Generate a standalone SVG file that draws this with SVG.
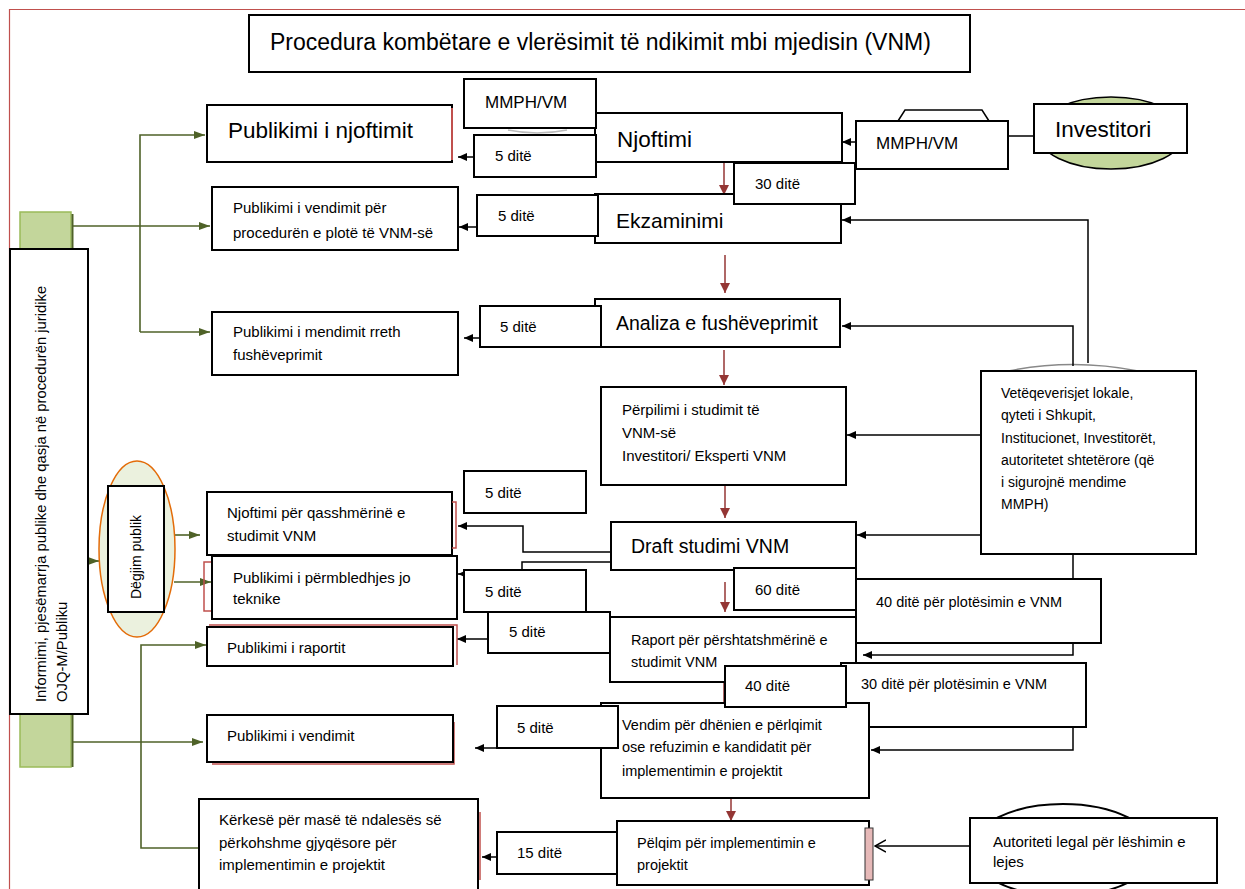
<svg xmlns="http://www.w3.org/2000/svg" width="1245" height="889" viewBox="0 0 1245 889">
<style>
.box{fill:#fff;stroke:#000;stroke-width:2}
.t{font-family:"Liberation Sans",Arial,sans-serif;fill:#000}
.s15{font-size:15px}
.s14{font-size:14.5px}
.blk{stroke:#000;stroke-width:1.5;fill:none}
.red{stroke:#943634;stroke-width:1.5;fill:none}
.grn{stroke:#4f6228;stroke-width:1.6;fill:none}
</style>
<defs>
<marker id="ab" markerWidth="10" markerHeight="10" refX="9" refY="5" orient="auto" markerUnits="userSpaceOnUse"><path d="M0,1 L9,5 L0,9 z" fill="#000"/></marker>
<marker id="ar" markerWidth="12" markerHeight="12" refX="10" refY="6" orient="auto" markerUnits="userSpaceOnUse"><path d="M0,1 L10,6 L0,11 z" fill="#943634"/></marker>
<marker id="ag" markerWidth="12" markerHeight="10" refX="11" refY="5" orient="auto" markerUnits="userSpaceOnUse"><path d="M0,1 L11,5 L0,9 z" fill="#4f6228"/></marker>
<marker id="ao" markerWidth="12" markerHeight="14" refX="11" refY="7" orient="auto" markerUnits="userSpaceOnUse"><path d="M0,1 L11,7 L0,13" fill="none" stroke="#000" stroke-width="1.5"/></marker>
</defs>
<rect width="1245" height="889" fill="#fff"/>
<path d="M9.5,889 V9.5 H1245" fill="none" stroke="#c0504d" stroke-width="1.2"/>

<!-- background shapes -->
<g id="bg-shapes">
<rect x="20" y="212" width="51" height="40" fill="#c3d69b" stroke="#9bbb59" stroke-width="1.5"/>
<line x1="72.5" y1="214" x2="72.5" y2="252" stroke="#4f6228" stroke-width="2"/>
<rect x="20" y="712" width="51" height="55" fill="#c3d69b" stroke="#9bbb59" stroke-width="1.5"/>
<line x1="72.5" y1="714" x2="72.5" y2="767" stroke="#4f6228" stroke-width="2"/>
<ellipse cx="1111" cy="133" rx="74" ry="36" fill="#c3d69b" stroke="#000" stroke-width="1.5"/>
<path d="M898,121 L905,110 L982,110 L989,121" fill="none" stroke="#000" stroke-width="1.5"/>
<path d="M508,130 Q537,136 567,130" fill="none" stroke="#bbb" stroke-width="1.5"/>
<path d="M1008,371 Q1073,358 1138,371" fill="none" stroke="#888" stroke-width="1.5"/>
<ellipse cx="1063" cy="850" rx="92" ry="46" fill="#fff" stroke="#000" stroke-width="2"/>
</g>

<!-- connectors -->
<g id="connectors">
<g class="grn">
<path d="M140,332 V135 H205" marker-end="url(#ag)"/>
<path d="M140,332 H210" marker-end="url(#ag)"/>
<path d="M73,226 H210" marker-end="url(#ag)"/>
<path d="M88,561 H99" marker-end="url(#ag)"/>
<path d="M174,535 H200" marker-end="url(#ag)"/>
<path d="M174,582 H211" marker-end="url(#ag)"/>
<path d="M73,742 H203" marker-end="url(#ag)"/>
<path d="M199,848 H141 V645 H206" marker-end="url(#ag)"/>
</g>
<g class="red">
<path d="M724,162 V195" marker-end="url(#ar)"/>
<path d="M725,255 V293" marker-end="url(#ar)"/>
<path d="M724,350 V385" marker-end="url(#ar)"/>
<path d="M725,485 V518" marker-end="url(#ar)"/>
<path d="M725,582 V612" marker-end="url(#ar)"/>
<path d="M724,682 V704"/>
<path d="M731,798 V821" marker-end="url(#ar)"/>
</g>
<g class="blk">
<path d="M474,157 H458" marker-end="url(#ab)"/>
<path d="M477,227 H459" marker-end="url(#ab)"/>
<path d="M480,338 H464" marker-end="url(#ab)"/>
<path d="M856,142 H842" marker-end="url(#ab)"/>
<path d="M1008,136 H1034"/>
<path d="M1088,363 V220 H842" marker-end="url(#ab)"/>
<path d="M1073,366 V326 H842" marker-end="url(#ab)"/>
<path d="M981,435 H847" marker-end="url(#ab)"/>
<path d="M981,535 H857" marker-end="url(#ab)"/>
<path d="M611,552 H523 V526 H458" marker-end="url(#ab)"/>
<path d="M611,562 H522 V571"/>
<path d="M466,574 H458" marker-end="url(#ab)"/>
<path d="M488,639 H457" marker-end="url(#ab)"/>
<path d="M1073,554 V655 H863" marker-end="url(#ab)"/>
<path d="M1073,727 V750 H871" marker-end="url(#ab)"/>
<path d="M497,748 H475" marker-end="url(#ab)"/>
<path d="M497,857 H482" marker-end="url(#ab)"/>
<path d="M970,846 H875" marker-end="url(#ao)"/>
</g>
</g>

<g id="title">
<rect class="box" x="249" y="15" width="721" height="57"/>
<text class="t" x="270" y="50" font-size="23">Procedura kombëtare e vlerësimit të ndikimit mbi mjedisin (VNM)</text>
</g>

<g id="informimi">
<rect class="box" x="10" y="249" width="78" height="465"/>
<text class="t" font-size="14.8" transform="translate(46,702) rotate(-90)">Informimi, pjesëmarrja publike dhe qasja në procedurën juridike</text>
<text class="t" font-size="14.8" transform="translate(67,702) rotate(-90)">OJQ-M/Publiku</text>
</g>

<g id="degjim">
<ellipse cx="137" cy="549" rx="38" ry="88" fill="#ebf1de" stroke="#e36c09" stroke-width="1.5"/>
<rect class="box" x="108" y="486" width="56" height="126"/>
<text class="t" font-size="14" text-anchor="middle" transform="translate(141,557) rotate(-90)">Dëgjim publik</text>
</g>

<g id="pub-njoftimit">
<rect class="box" x="207" y="105" width="245" height="57"/>
<line x1="452" y1="108" x2="452" y2="160" stroke="#c0504d" stroke-width="2"/>
<text class="t" x="228" y="138" font-size="22.5">Publikimi i njoftimit</text>
</g>

<g id="pub-vendimit-proc">
<rect class="box" x="212" y="187" width="246" height="63"/>
<text class="t s15" x="233" y="213">Publikimi i vendimit për</text>
<text class="t s15" x="233" y="238">procedurën e plotë të VNM-së</text>
</g>

<g id="pub-mendimit">
<rect class="box" x="212" y="312" width="246" height="63"/>
<text class="t s15" x="233" y="337">Publikimi i mendimit rreth</text>
<text class="t s15" x="233" y="360">fushëveprimit</text>
</g>

<g id="njoftimi">
<rect class="box" x="595" y="113" width="247" height="49"/>
<text class="t" x="617" y="147" font-size="22.5">Njoftimi</text>
</g>
<g id="mmph-top">
<rect class="box" x="464" y="79" width="132" height="49"/>
<text class="t" x="485" y="108" font-size="17">MMPH/VM</text>
</g>
<g id="d5-njoftimi">
<rect class="box" x="474" y="135" width="122" height="42"/>
<text class="t s15" x="495" y="161">5 ditë</text>
</g>

<g id="ekzaminimi">
<rect class="box" x="595" y="194" width="246" height="49"/>
<text class="t" x="616" y="228" font-size="21">Ekzaminimi</text>
</g>
<g id="d30">
<rect class="box" x="734" y="163" width="121" height="41"/>
<text class="t s15" x="755" y="189">30 ditë</text>
</g>
<g id="d5-ekz">
<rect class="box" x="477" y="195" width="121" height="41"/>
<text class="t s15" x="498" y="221">5 ditë</text>
</g>

<g id="analiza">
<rect class="box" x="595" y="299" width="245" height="48"/>
<text class="t" x="616" y="330" font-size="19.5">Analiza e fushëveprimit</text>
</g>
<g id="d5-analiza">
<rect class="box" x="480" y="306" width="121" height="41"/>
<text class="t s15" x="500" y="332">5 ditë</text>
</g>

<g id="mmph-right">
<rect class="box" x="856" y="121" width="152" height="48"/>
<text class="t" x="876" y="149" font-size="17">MMPH/VM</text>
</g>
<g id="investitori">
<rect class="box" x="1034" y="104" width="153" height="49"/>
<text class="t" x="1055" y="137" font-size="22.5">Investitori</text>
</g>

<g id="vetqeverisjet">
<rect class="box" x="981" y="371" width="215" height="183"/>
<text class="t" font-size="14" x="1001" y="398">Vetëqeverisjet lokale,</text>
<text class="t" font-size="14" x="1001" y="420">qyteti i Shkupit,</text>
<text class="t" font-size="14" x="1001" y="443">Institucionet, Investitorët,</text>
<text class="t" font-size="14" x="1001" y="465">autoritetet shtetërore (që</text>
<text class="t" font-size="14" x="1001" y="487">i sigurojnë mendime</text>
<text class="t" font-size="14" x="1001" y="509">MMPH)</text>
</g>

<g id="perpilimi">
<rect class="box" x="601" y="387" width="245" height="98"/>
<text class="t s15" x="622" y="415">Përpilimi i studimit të</text>
<text class="t s15" x="622" y="438">VNM-së</text>
<text class="t s15" x="622" y="461">Investitori/ Eksperti VNM</text>
</g>

<g id="njoftimi-qassh">
<rect class="box" x="207" y="492" width="245" height="63"/>
<path d="M452,502 H456 V548 H452" stroke="#c0504d" stroke-width="1.5" fill="none"/>
<text class="t s15" x="227" y="518">Njoftimi për qasshmërinë e</text>
<text class="t s15" x="227" y="541">studimit VNM</text>
</g>
<g id="d5-top">
<rect class="box" x="464" y="471" width="122" height="42"/>
<text class="t s15" x="485" y="498">5 ditë</text>
</g>

<g id="draft">
<rect class="box" x="611" y="522" width="245" height="48"/>
<text class="t" x="631" y="553" font-size="19.5">Draft studimi VNM</text>
</g>

<g id="pub-permbledhjes">
<path d="M212,562 H204 V611 H212" stroke="#c0504d" stroke-width="1.5" fill="none"/>
<rect class="box" x="212" y="556" width="245" height="63"/>
<text class="t s15" x="233" y="583">Publikimi i përmbledhjes jo</text>
<text class="t s15" x="233" y="604">teknike</text>
</g>
<g id="d5-mid">
<rect class="box" x="464" y="570" width="122" height="42"/>
<text class="t s15" x="485" y="597">5 ditë</text>
</g>

<g id="d60">
<rect class="box" x="734" y="568" width="122" height="42"/>
<text class="t s15" x="755" y="595">60 ditë</text>
</g>

<g id="d40-plot">
<rect class="box" x="856" y="579" width="245" height="64"/>
<text class="t s14" x="876" y="607">40 ditë për plotësimin e VNM</text>
</g>

<g id="pub-raportit">
<path d="M209,625 H457 V665" stroke="#c0504d" stroke-width="1.5" fill="none"/>
<rect class="box" x="207" y="627" width="246" height="39"/>
<text class="t s15" x="227" y="653">Publikimi i raportit</text>
</g>

<g id="raport">
<rect class="box" x="610" y="617" width="246" height="65"/>
<text class="t s14" x="631" y="645">Raport për përshtatshmërinë e</text>
<text class="t s14" x="631" y="667">studimit VNM</text>
</g>
<g id="d5-raport">
<rect class="box" x="488" y="612" width="122" height="41"/>
<text class="t s15" x="509" y="637">5 ditë</text>
</g>

<g id="d30-plot">
<rect class="box" x="841" y="663" width="245" height="64"/>
<text class="t s14" x="861" y="689">30 ditë për plotësimin e VNM</text>
</g>

<g id="vendim">
<rect class="box" x="601" y="703" width="268" height="95"/>
<text class="t s14" x="622" y="730">Vendim për dhënien e përlqimit</text>
<text class="t s14" x="622" y="752">ose refuzimin e kandidatit për</text>
<text class="t s14" x="622" y="776">implementimin e projektit</text>
</g>
<g id="d40">
<rect class="box" x="725" y="666" width="121" height="41"/>
<text class="t s15" x="745" y="691">40 ditë</text>
</g>
<g id="d5-vendim">
<rect class="box" x="497" y="706" width="121" height="42"/>
<text class="t s15" x="517" y="733">5 ditë</text>
</g>

<g id="pub-vendimit">
<path d="M212,764 H454 V722" stroke="#c0504d" stroke-width="1.5" fill="none"/>
<rect class="box" x="207" y="715" width="246" height="47"/>
<text class="t s15" x="227" y="741">Publikimi i vendimit</text>
</g>

<g id="kerkese">
<line x1="480" y1="812" x2="480" y2="880" stroke="#c0504d" stroke-width="1.5"/>
<rect class="box" x="199" y="799" width="279" height="95"/>
<text class="t s15" x="219" y="825">Kërkesë për masë të ndalesës së</text>
<text class="t s15" x="219" y="848">përkohshme gjyqësore për</text>
<text class="t s15" x="219" y="870">implementimin e projektit</text>
</g>
<g id="d15">
<rect class="box" x="497" y="832" width="120" height="42"/>
<text class="t s15" x="517" y="858">15 ditë</text>
</g>

<g id="pelqim">
<rect class="box" x="617" y="821" width="252" height="64"/>
<rect x="865" y="828" width="8" height="52" fill="#e6b9b8" stroke="#333" stroke-width="1"/>
<text class="t s14" x="637" y="848">Pëlqim për implementimin e</text>
<text class="t s14" x="637" y="870">projektit</text>
</g>

<g id="autoriteti">
<rect class="box" x="970" y="818" width="247" height="65"/>
<text class="t s15" x="993" y="847">Autoriteti legal për lëshimin e</text>
<text class="t s15" x="993" y="867">lejes</text>
</g>
</svg>
